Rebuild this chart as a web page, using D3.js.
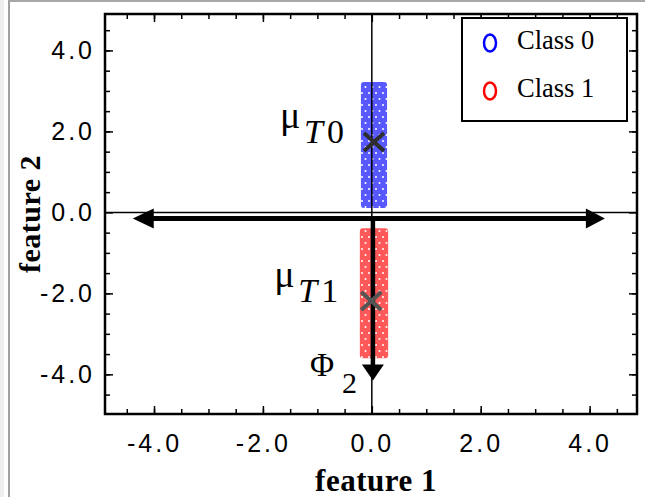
<!DOCTYPE html>
<html lang="en">

<head>
    <meta charset="UTF-8">
    <title>Class regions and projection axes</title>
    <script src="https://d3js.org/d3.v7.min.js"></script>
    <style>
        body {
            margin: 0;
            background: #fff;
        }

        .tick-label text {
            font-family: "Liberation Sans", Arial, sans-serif;
            font-size: 25px;
            letter-spacing: 3px;
            fill: #000;
        }

        .serif {
            font-family: "Liberation Serif", "Times New Roman", serif;
        }
    </style>
</head>

<body>

    <script>
        const width = 645;
        const height = 497;

        // class regions (extent of each class' samples)
        const classNames = ['Class 0', 'Class 1'];
        const regionX0 = [-0.2, -0.22];
        const regionX1 = [0.28, 0.3];
        const regionY0 = [0.11, -3.6];
        const regionY1 = [3.22, -0.39];

        // class means
        const meanX = [0.04, -0.01];
        const meanY = [1.74, -2.19];
        const meanSubs = ['T0', 'T1'];

        // projection directions
        const phi1From = [-4.39, -0.15];
        const phi1To = [4.28, -0.15];
        const phi2From = [0.02, -0.15];
        const phi2To = [0.02, -4.15];

        // ticks
        const xMajor = [-4, -2, 0, 2, 4];
        const yMajor = [-4, -2, 0, 2, 4];
        const minorTicks = [-4.5, -4, -3.5, -3, -2.5, -2, -1.5, -1, -0.5, 0.5, 1, 1.5, 2, 2.5, 3, 3.5, 4, 4.5];

        const classColors = ['#5858ff', '#ff5858'];
        const markerColors = ['#0000ff', '#ff0000'];

        const svg = d3.select('body').append('svg')
            .attr('width', width)
            .attr('height', height);

        // window-ish border on the left / top
        svg.append('rect').attr('x', 0).attr('y', 0).attr('width', 4).attr('height', height).attr('fill', '#eeeeee');
        svg.append('line').attr('x1', 9).attr('x2', 9).attr('y1', 0).attr('y2', height)
            .attr('stroke', '#a0a0a0').attr('stroke-width', 2);
        svg.append('line').attr('x1', 9).attr('x2', width).attr('y1', 1).attr('y2', 1)
            .attr('stroke', '#a8a8a8').attr('stroke-width', 2);

        const pL = 105, pR = 637, pT = 14, pB = 414;

        const x = d3.scaleLinear().domain([-4.9, 4.87]).range([pL, pR]);
        const y = d3.scaleLinear().domain([-4.98, 4.9]).range([pB, pT]);

        // dotted fills for the dense sample clouds
        const defs = svg.append('defs');
        classColors.forEach((c, i) => {
            const p = defs.append('pattern')
                .attr('id', 'dots' + i)
                .attr('patternUnits', 'userSpaceOnUse')
                .attr('width', 7)
                .attr('height', 12);
            p.append('rect').attr('width', 7).attr('height', 12).attr('fill', c);
            p.append('circle').attr('cx', 1.5).attr('cy', 3).attr('r', 1).attr('fill', '#fff');
            p.append('circle').attr('cx', 5).attr('cy', 9).attr('r', 1).attr('fill', '#fff');
        });

        // ticks on all four sides (pointing inwards)
        function tickAxis(axis, tx, ty, values, size) {
            const g = svg.append('g')
                .attr('transform', `translate(${tx},${ty})`)
                .call(axis.tickValues(values).tickSize(size).tickFormat(''));
            g.select('.domain').remove();
            g.selectAll('line').attr('stroke', '#000').attr('stroke-width', 1.5);
        }
        tickAxis(d3.axisTop(x), 0, pB, minorTicks, 5);
        tickAxis(d3.axisBottom(x), 0, pT, minorTicks, 5);
        tickAxis(d3.axisRight(y), pL, 0, minorTicks, 5);
        tickAxis(d3.axisLeft(y), pR, 0, minorTicks, 5);
        tickAxis(d3.axisTop(x), 0, pB, xMajor, 8);
        tickAxis(d3.axisBottom(x), 0, pT, xMajor, 8);
        tickAxis(d3.axisRight(y), pL, 0, yMajor, 8);
        tickAxis(d3.axisLeft(y), pR, 0, yMajor, 8);

        // tick labels
        const xLab = svg.append('g')
            .attr('class', 'tick-label')
            .attr('transform', `translate(0,${pB})`)
            .call(d3.axisBottom(x).tickValues(xMajor).tickSize(0).tickPadding(20).tickFormat(d => d.toFixed(1)));
        xLab.select('.domain').remove();
        xLab.attr('font-size', null);

        const yLab = svg.append('g')
            .attr('class', 'tick-label')
            .attr('transform', `translate(${pL},0)`)
            .call(d3.axisLeft(y).tickValues(yMajor).tickSize(0).tickPadding(10).tickFormat(d => d.toFixed(1)));
        yLab.select('.domain').remove();
        yLab.attr('font-size', null);

        // class regions
        svg.selectAll('.region')
            .data(classNames)
            .enter().append('rect')
            .attr('class', 'region')
            .attr('x', (d, i) => x(regionX0[i]))
            .attr('width', (d, i) => x(regionX1[i]) - x(regionX0[i]))
            .attr('y', (d, i) => y(regionY1[i]))
            .attr('height', (d, i) => y(regionY0[i]) - y(regionY1[i]))
            .attr('rx', 3)
            .attr('fill', (d, i) => `url(#dots${i})`);

        // axes through the origin
        svg.append('line')
            .attr('x1', x(0)).attr('x2', x(0)).attr('y1', pT).attr('y2', pB)
            .attr('stroke', '#000').attr('stroke-width', 1.5);
        svg.append('line')
            .attr('x1', pL).attr('x2', pR).attr('y1', y(0)).attr('y2', y(0))
            .attr('stroke', '#000').attr('stroke-width', 1.5);

        // frame
        svg.append('rect')
            .attr('x', pL).attr('y', pT)
            .attr('width', pR - pL).attr('height', pB - pT)
            .attr('fill', 'none').attr('stroke', '#000').attr('stroke-width', 2.5);

        // arrows
        function arrowHead(tip, dir, len, half) {
            const [tx, ty] = tip;
            const [dx, dy] = dir;
            const bx = tx - dx * len, by = ty - dy * len;
            const px = -dy * half, py = dx * half;
            svg.append('path')
                .attr('d', `M${tx},${ty}L${bx + px},${by + py}L${bx - px},${by - py}Z`)
                .attr('fill', '#000');
        }
        const p1a = [x(phi1From[0]), y(phi1From[1])];
        const p1b = [x(phi1To[0]), y(phi1To[1])];
        svg.append('line')
            .attr('x1', p1a[0] + 15).attr('y1', p1a[1])
            .attr('x2', p1b[0] - 15).attr('y2', p1b[1])
            .attr('stroke', '#000').attr('stroke-width', 5);
        arrowHead(p1a, [-1, 0], 21, 10);
        arrowHead(p1b, [1, 0], 19, 10);

        const p2a = [x(phi2From[0]), y(phi2From[1])];
        const p2b = [x(phi2To[0]), y(phi2To[1])];
        svg.append('line')
            .attr('x1', p2a[0]).attr('y1', p2a[1])
            .attr('x2', p2b[0]).attr('y2', p2b[1] - 12)
            .attr('stroke', '#000').attr('stroke-width', 4.5);
        arrowHead(p2b, [0, 1], 16, 11);

        // mean markers
        const meanCol = ['#2e2e2e', '#555555'];
        meanX.forEach((mx, i) => {
            const cx = x(mx), cy = y(meanY[i]);
            svg.append('path')
                .attr('d', `M${cx - 10},${cy - 9}L${cx + 10},${cy + 9}M${cx - 10},${cy + 9}L${cx + 10},${cy - 9}`)
                .attr('stroke', meanCol[i])
                .attr('stroke-width', 4);
        });

        // mean labels
        meanX.forEach((mx, i) => {
            const cx = x(mx), cy = y(meanY[i]);
            const ox = i === 0 ? -94 : -97;
            const oy = -14;
            svg.append('text')
                .attr('class', 'serif')
                .attr('x', cx + ox).attr('y', cy + oy)
                .attr('font-size', 38)
                .text('\u03bc');
            const t = svg.append('text')
                .attr('class', 'serif')
                .attr('x', cx + ox + 24).attr('y', cy + oy + 15)
                .attr('font-size', 34);
            t.append('tspan').attr('font-style', 'italic').text(meanSubs[i][0]);
            t.append('tspan').attr('dx', 4).text(meanSubs[i].slice(1));
        });

        // Φ2 label
        svg.append('text')
            .attr('class', 'serif')
            .attr('x', p2b[0] - 63).attr('y', p2b[1] - 4)
            .attr('font-size', 33)
            .text('\u03a6');
        svg.append('text')
            .attr('class', 'serif')
            .attr('x', p2b[0] - 31).attr('y', p2b[1] + 13)
            .attr('font-size', 30)
            .text('2');

        // axis titles
        svg.append('text')
            .attr('class', 'serif')
            .attr('x', (pL + pR) / 2 + 5).attr('y', 491)
            .attr('text-anchor', 'middle')
            .attr('font-size', 31).attr('font-weight', 'bold')
            .attr('letter-spacing', 0.5)
            .text('feature 1');
        svg.append('text')
            .attr('class', 'serif')
            .attr('transform', `translate(40,${(pT + pB) / 2}) rotate(-90)`)
            .attr('text-anchor', 'middle')
            .attr('font-size', 30).attr('font-weight', 'bold')
            .attr('letter-spacing', 0.5)
            .text('feature 2');

        // legend
        const legend = svg.append('g');
        legend.append('rect')
            .attr('x', 462).attr('y', 18).attr('width', 165).attr('height', 103)
            .attr('fill', '#fff').attr('stroke', '#000').attr('stroke-width', 2);
        const items = legend.selectAll('.item')
            .data(classNames)
            .enter().append('g')
            .attr('transform', (d, i) => `translate(490,${43 + i * 48})`);
        items.append('ellipse')
            .attr('rx', 6).attr('ry', 8.5)
            .attr('fill', 'none')
            .attr('stroke', (d, i) => markerColors[i])
            .attr('stroke-width', 2.5);
        items.append('text')
            .attr('class', 'serif')
            .attr('x', 27).attr('y', 6)
            .attr('font-size', 26.5)
            .text(d => d);
    </script>

</body>

</html>
